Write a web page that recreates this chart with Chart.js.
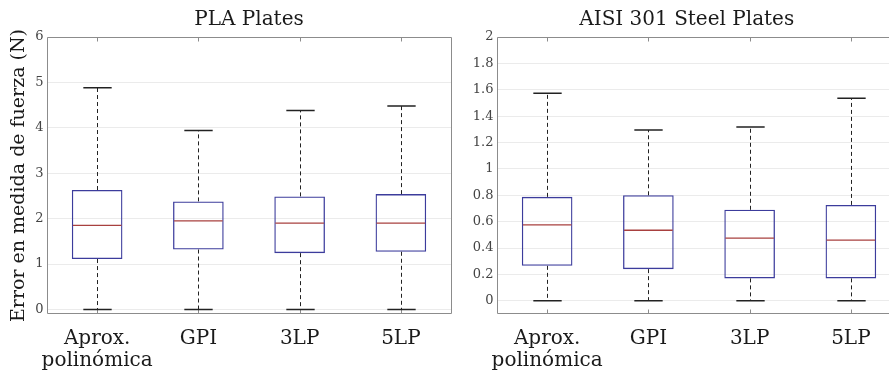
<!DOCTYPE html>
<html lang="es">
<head>
<meta charset="UTF-8">
<title>Error en medida de fuerza</title>
<script src="https://cdn.jsdelivr.net/npm/chart.js@4.4.1/dist/chart.umd.min.js"></script>
<style>
    html, body { margin: 0; overflow: hidden; background: #fff; }
    .wrap { position: relative; width: 889px; height: 374px; overflow: hidden; }
    #plaChart { position: absolute; left: 0; top: 0; }
    #steelChart { position: absolute; left: 445px; top: 0; }
</style>
</head>
<body>
<div class="wrap">
    <canvas id="plaChart" width="455" height="374"></canvas>
    <canvas id="steelChart" width="488" height="374"></canvas>
</div>

<script>
    // categories (shared by both panels)
    const categories = [['Aprox.', 'polinómica'], 'GPI', '3LP', '5LP'];

    // PLA plates: whisker ends, quartiles and medians (N)
    const plaMin = [0, 0, 0, 0];
    const plaQ1 = [1.11, 1.32, 1.24, 1.27];
    const plaMedian = [1.85, 1.95, 1.90, 1.90];
    const plaQ3 = [2.63, 2.38, 2.49, 2.54];
    const plaMax = [4.88, 3.94, 4.38, 4.48];
    const plaTicks = [0, 1, 2, 3, 4, 5, 6];

    // AISI 301 steel plates (N)
    const steelMin = [0, 0, 0, 0];
    const steelQ1 = [0.265, 0.24, 0.17, 0.17];
    const steelMedian = [0.576, 0.535, 0.475, 0.46];
    const steelQ3 = [0.788, 0.80, 0.69, 0.727];
    const steelMax = [1.573, 1.295, 1.318, 1.535];
    const steelTicks = [0, 0.2, 0.4, 0.6, 0.8, 1, 1.2, 1.4, 1.6, 1.8, 2];

    const SERIF = "'DejaVu Serif', serif";
    const CAP_WIDTH = 0.28; // in category units

    // whiskers, caps, medians and the axes frame
    const boxPlugin = {
        id: 'boxWhiskers',
        afterDatasetsDraw(chart) {
            const { ctx, chartArea: a, scales: { x, y } } = chart;
            const s = chart.options.plugins.boxWhiskers;
            const bars = chart.getDatasetMeta(0).data;
            ctx.save();

            // frame + inner category ticks
            ctx.strokeStyle = '#8c8c8c';
            ctx.lineWidth = 1;
            const l = Math.round(a.left) + 0.5, r = Math.round(a.right) - 0.5;
            const t = Math.round(a.top) + 0.5, b = Math.round(a.bottom) - 0.5;
            ctx.beginPath();
            ctx.moveTo(r, t); ctx.lineTo(l, t); ctx.lineTo(l, b); ctx.lineTo(r, b);
            if (s.rightEdge) ctx.lineTo(r, t);
            ctx.stroke();
            categories.forEach((c, i) => {
                const px = Math.round(x.getPixelForValue(i)) + 0.5;
                ctx.beginPath();
                ctx.moveTo(px, t); ctx.lineTo(px, t + 4);
                ctx.moveTo(px, b); ctx.lineTo(px, b - 4);
                ctx.stroke();
            });

            categories.forEach((c, i) => {
                const px = Math.round(x.getPixelForValue(i)) + 0.5;
                const half = (x.getPixelForValue(i + CAP_WIDTH / 2) - x.getPixelForValue(i - CAP_WIDTH / 2)) / 2;

                // dashed whiskers
                ctx.strokeStyle = '#222';
                ctx.lineWidth = 1;
                ctx.setLineDash([4, 3]);
                ctx.beginPath();
                ctx.moveTo(px, y.getPixelForValue(s.q3[i]));
                ctx.lineTo(px, y.getPixelForValue(s.max[i]));
                ctx.moveTo(px, y.getPixelForValue(s.q1[i]));
                ctx.lineTo(px, y.getPixelForValue(s.min[i]));
                ctx.stroke();
                ctx.setLineDash([]);

                // caps
                ctx.lineWidth = 1.5;
                ctx.beginPath();
                [s.max[i], s.min[i]].forEach(v => {
                    const py = y.getPixelForValue(v);
                    ctx.moveTo(px - half, py);
                    ctx.lineTo(px + half, py);
                });
                ctx.stroke();

                // median
                const bar = bars[i];
                ctx.strokeStyle = '#a8403f';
                ctx.lineWidth = 1.3;
                const my = y.getPixelForValue(s.median[i]);
                ctx.beginPath();
                ctx.moveTo(bar.x - bar.width / 2 + 1, my);
                ctx.lineTo(bar.x + bar.width / 2 - 1, my);
                ctx.stroke();
            });
            ctx.restore();
        }
    };

    function makeBoxChart(id, cfg) {
        return new Chart(document.getElementById(id), {
            type: 'bar',
            data: {
                labels: categories,
                datasets: [{
                    data: cfg.q1.map((q, i) => [q, cfg.q3[i]]),
                    backgroundColor: 'rgba(255,255,255,0)',
                    borderColor: '#3c3c9c',
                    borderWidth: 1.3,
                    borderSkipped: false,
                    barPercentage: 0.5,
                    categoryPercentage: 1
                }]
            },
            options: {
                responsive: false,
                animation: false,
                events: [],
                layout: { padding: { left: cfg.padLeft, right: cfg.padRight, top: 0, bottom: 0 } },
                plugins: {
                    legend: { display: false },
                    tooltip: { enabled: false },
                    title: {
                        display: true,
                        text: cfg.title,
                        fullSize: cfg.titleFull,
                        color: '#1a1a1a',
                        font: { family: SERIF, size: 20, weight: 'normal', lineHeight: 1.2 },
                        padding: { top: 8, bottom: 5 }
                    },
                    boxWhiskers: cfg
                },
                scales: {
                    x: {
                        grid: { display: false },
                        border: { display: false },
                        ticks: {
                            color: '#1a1a1a',
                            font: { family: SERIF, size: 20, lineHeight: 1.1 },
                            padding: 6,
                            autoSkip: false,
                            maxRotation: 0
                        },
                        afterFit(s) { s.height = 60; }
                    },
                    y: {
                        min: -0.1,
                        max: cfg.ticks[cfg.ticks.length - 1],
                        grid: { color: '#ebebeb', drawTicks: false },
                        border: { display: false },
                        ticks: {
                            color: '#444',
                            font: { family: SERIF, size: 13 },
                            padding: 3,
                            callback: v => String(Math.round(v * 10) / 10)
                        },
                        afterBuildTicks(s) { s.ticks = cfg.ticks.map(v => ({ value: v })); },
                        afterFit(s) { s.width = cfg.yWidth; },
                        title: {
                            display: !!cfg.yTitle,
                            text: cfg.yTitle,
                            color: '#1a1a1a',
                            font: { family: SERIF, size: 19 },
                            padding: { top: 8, bottom: 0 }
                        }
                    }
                }
            },
            plugins: [boxPlugin]
        });
    }

    makeBoxChart('plaChart', {
        title: 'PLA Plates',
        yTitle: 'Error en medida de fuerza (N)',
        min: plaMin, q1: plaQ1, median: plaMedian, q3: plaQ3, max: plaMax,
        ticks: plaTicks, yWidth: 46.5, padLeft: 0, padRight: 3.5,
        titleFull: false, rightEdge: true
    });

    makeBoxChart('steelChart', {
        title: 'AISI 301 Steel Plates',
        yTitle: '',
        min: steelMin, q1: steelQ1, median: steelMedian, q3: steelQ3, max: steelMax,
        ticks: steelTicks, yWidth: 24.5, padLeft: 27, padRight: 31.5,
        titleFull: true, rightEdge: false
    });
</script>
</body>
</html>
